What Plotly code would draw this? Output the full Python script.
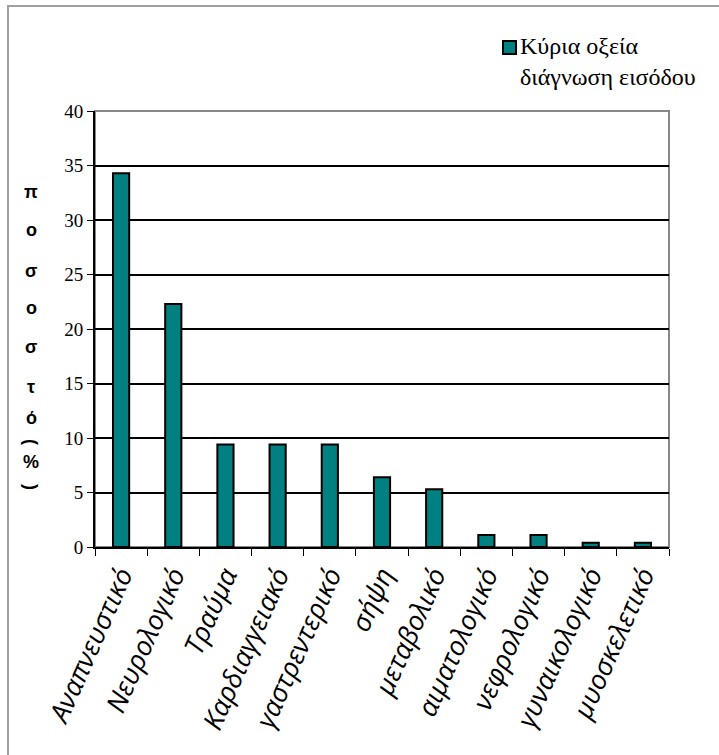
import plotly.graph_objects as go

categories = ["Αναπνευστικό", "Νευρολογικό", "Τραύμα", "Καρδιαγγειακό", "γαστρεντερικό",
              "σήψη", "μεταβολικό", "αιματολογικό", "νεφρολογικό", "γυναικολογικό", "μυοσκελετικό"]
values = [34.3, 22.3, 9.4, 9.4, 9.4, 6.4, 5.3, 1.1, 1.1, 0.4, 0.4]
series_name = "Κύρια οξεία<br>διάγνωση εισόδου"
y_ticks = [0, 5, 10, 15, 20, 25, 30, 35, 40]
title_letters = ["π", "ο", "σ", "ο", "σ", "τ", "ό", "(", "%", ")"]

W, H = 719, 755
L, R, T, B = 95, 50, 111, 208
ph = H - T - B
pw = W - L - R
TEAL = "#008080"

def py(p):
    return (H - B - p) / ph

def px(p):
    return (p - L) / pw

fig = go.Figure()
fig.add_trace(go.Bar(
    x=categories, y=values, name=series_name.replace("<br>", " "),
    marker=dict(color=TEAL, line=dict(color="black", width=2)),
    showlegend=False,
))

annotations = []
letter_y = [192, 230, 271, 308, 347, 387, 418, 442, 462, 487]
letter_rot = [0, 0, 0, 0, 0, 0, 0, 90, 0, 90]
for ch, yy, rot in zip(title_letters, letter_y, letter_rot):
    annotations.append(dict(text=ch, x=px(31), y=py(yy), xref="paper", yref="paper",
                            xanchor="center", yanchor="middle",
                            textangle=rot, showarrow=False,
                            font=dict(family="Liberation Sans", size=18, color="black", weight="bold")))

# legend text
annotations.append(dict(text=series_name, x=px(518), y=py(31), xref="paper", yref="paper",
                        xanchor="left", yanchor="top", align="left", showarrow=False,
                        font=dict(family="Liberation Serif", size=24, color="black")))

shapes = [
    # outer chart frame
    dict(type="rect", xref="paper", yref="paper", x0=px(8), x1=px(730), y0=py(770), y1=py(6),
         line=dict(color="#a0a0a0", width=2), layer="below"),
    # plot area frame
    dict(type="rect", xref="paper", yref="paper", x0=0, x1=1, y0=0, y1=1,
         line=dict(color="#888888", width=2), layer="below"),
    # legend key
    dict(type="rect", xref="paper", yref="paper", x0=px(503), x1=px(516), y0=py(54), y1=py(41),
         fillcolor=TEAL, line=dict(color="black", width=2)),
]

fig.update_layout(
    width=W, height=H,
    margin=dict(l=L, r=R, t=T, b=B, autoexpand=False),
    paper_bgcolor="white", plot_bgcolor="white",
    font=dict(family="Liberation Serif"),
    bargap=0.69,
    xaxis=dict(tickangle=-66, tickson="boundaries", ticks="outside", ticklen=7, tickcolor="black",
               showline=True, linecolor="black", linewidth=2, showgrid=False,
               tickfont=dict(family="Open Sans", size=27, color="black", style="italic")),
    yaxis=dict(range=[0, 40], tickvals=y_ticks, ticks="outside", ticklen=6, tickcolor="black",
               showline=True, linecolor="black", linewidth=2,
               showgrid=True, gridcolor="black", gridwidth=2, zeroline=False,
               tickfont=dict(family="Liberation Serif", size=19, color="black")),
    showlegend=False,
    annotations=annotations,
    shapes=shapes,
)

fig.write_html("out.html")
